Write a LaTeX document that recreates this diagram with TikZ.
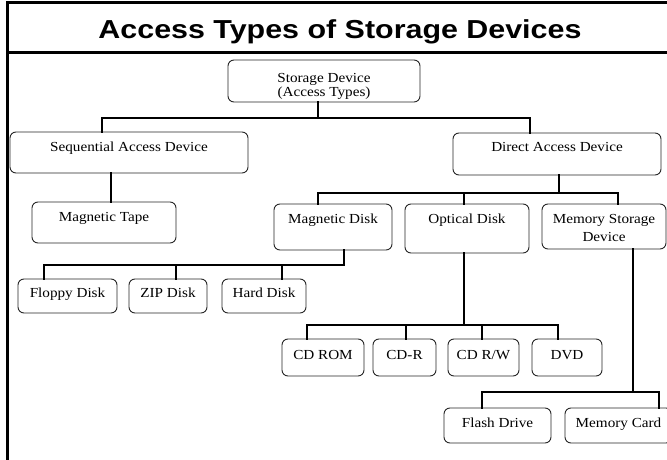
\documentclass[tikz,border=0pt]{standalone}
\usepackage{fontspec}
\setmainfont{Liberation Serif}[FakeStretch=1.1]
\newfontfamily\titlefont{Liberation Sans}[FakeStretch=1.17]

\tikzset{
  frameline/.style={line width=3pt, black},
  devbox/.style={draw=black!85, line width=0.9pt, rounded corners=6pt,
    inner sep=0pt, fill=white},
  lbl/.style={inner sep=0pt, font=\fontsize{13.8}{18}\selectfont, text=black},
  conn/.style={line width=2.6pt, black, line cap=rect},
}

% \devbox[label options]{name}{x1}{x2}{y1}{y2}{text}
\newcommand{\devbox}[7][anchor=base,yshift=-20pt]{%
  \node[devbox, minimum width={(#4-#3)*1pt}, minimum height={(#6-#5)*1pt},
    label={[lbl,#1]north:{#7}}] (#2) at ({(#3+#4)/2},{(#5+#6)/2}) {};}

\begin{document}
\begin{tikzpicture}[x=1pt,y=-1pt]
\useasboundingbox (0,0) rectangle (667,460);
\clip (0,0) rectangle (667,460);

% frame and title bar
\draw[frameline] (7,462) -- (7,2.5) -- (669,2.5);
\draw[frameline] (7,52.5) -- (669,52.5);
\node[anchor=base, inner sep=0pt, font=\titlefont\bfseries\fontsize{26}{30}\selectfont]
  (title) at (340,39) {Access Types of Storage Devices};

% boxes
\devbox[anchor=north,yshift=-14pt,align=center,font=\fontsize{13.8}{14}\selectfont]{root}{228}{420}{60}{102}{Storage Device\\(Access Types)}
\devbox{seq}{10}{248}{132}{173}{Sequential Access Device}
\devbox{tape}{32}{176}{202}{243}{Magnetic Tape}
\devbox[anchor=base,yshift=-19pt]{direct}{453}{661}{133}{175}{Direct Access Device}
\devbox{magdisk}{274}{392}{204}{250}{Magnetic Disk}
\devbox{optical}{405}{529}{204}{253}{Optical Disk}
\devbox[anchor=north,yshift=-11pt,align=center]{memory}{542}{666}{204}{249}{Memory Storage\\Device}
\devbox[anchor=base,yshift=-19pt]{floppy}{18}{117}{279}{313}{Floppy Disk}
\devbox[anchor=base,yshift=-19pt]{zip}{129}{207}{279}{313}{ZIP Disk}
\devbox[anchor=base,yshift=-19pt]{hard}{222}{306}{279}{313}{Hard Disk}
\devbox[anchor=base,yshift=-21pt]{cdrom}{282}{364}{339}{376}{CD ROM}
\devbox[anchor=base,yshift=-21pt]{cdr}{373}{436}{339}{376}{CD-R}
\devbox[anchor=base,yshift=-21pt]{cdrw}{448}{519}{339}{376}{CD R/W}
\devbox[anchor=base,yshift=-21pt]{dvd}{532}{602}{339}{376}{DVD}
\devbox{flash}{444}{551}{408}{443}{Flash Drive}
\devbox{card}{565}{672}{408}{443}{Memory Card}

% root bus
\coordinate (j0) at (318,118);
\coordinate (a1) at (102,118);
\coordinate (a2) at (530,118);
\draw[conn] (root.south -| j0) -- (j0);
\draw[conn] (seq.north -| a1) -- (a1) -- (a2) -- (direct.north -| a2);

% sequential branch
\coordinate (a3) at (111,190);
\draw[conn] (seq.south -| a3) -- (tape.north -| a3);

% direct access bus
\coordinate (j1) at (559,193);
\coordinate (b1) at (318,193);
\coordinate (b2) at (464,193);
\coordinate (b3) at (618,193);
\draw[conn] (direct.south -| j1) -- (j1);
\draw[conn] (magdisk.north -| b1) -- (b1) -- (b3) -- (memory.north -| b3);
\draw[conn] (b2) -- (optical.north -| b2);

% magnetic disk bus
\coordinate (c0) at (344,265);
\coordinate (c1) at (44,265);
\coordinate (c2) at (176,265);
\coordinate (c3) at (282,265);
\draw[conn] (magdisk.south -| c0) -- (c0) -- (c1) -- (floppy.north -| c1);
\draw[conn] (c2) -- (zip.north -| c2);
\draw[conn] (c3) -- (hard.north -| c3);

% optical disk bus
\coordinate (d0) at (464,325);
\coordinate (d1) at (307,325);
\coordinate (d2) at (406,325);
\coordinate (d3) at (482,325);
\coordinate (d4) at (558,325);
\draw[conn] (optical.south -| d0) -- (d0);
\draw[conn] (cdrom.north -| d1) -- (d1) -- (d4) -- (dvd.north -| d4);
\draw[conn] (d2) -- (cdr.north -| d2);
\draw[conn] (d3) -- (cdrw.north -| d3);

% memory storage bus
\coordinate (e0) at (633,392);
\coordinate (e1) at (482,392);
\coordinate (e2) at (659,392);
\draw[conn] (memory.south -| e0) -- (e0);
\draw[conn] (flash.north -| e1) -- (e1) -- (e2) -- (card.north -| e2);
\end{tikzpicture}
\end{document}
